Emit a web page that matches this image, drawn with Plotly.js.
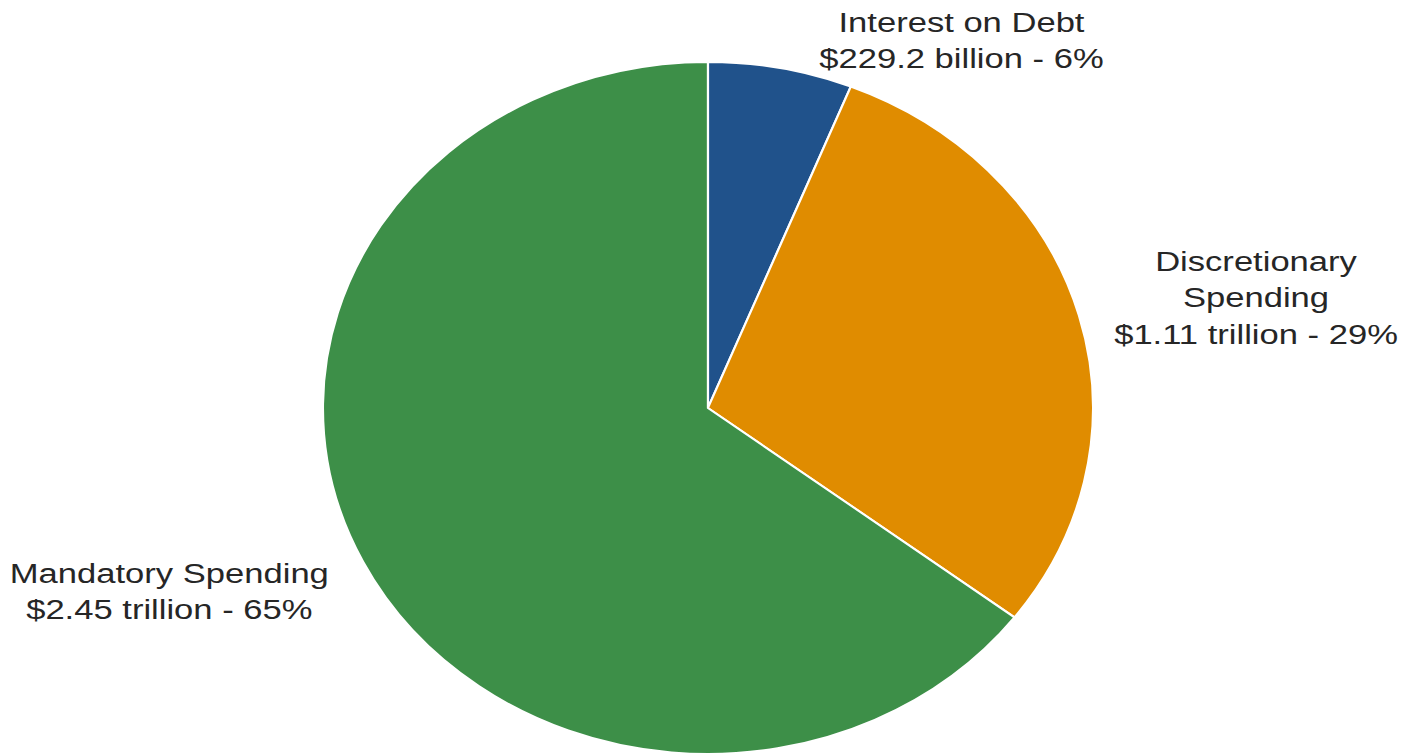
<!DOCTYPE html>
<html>
<head>
<meta charset="utf-8">
<script src="https://cdn.plot.ly/plotly-3.0.1.min.js"></script>
<style>
html,body{margin:0;padding:0;background:#fff;overflow:hidden;}
#wrap{width:1404px;height:755px;overflow:hidden;}
#chart{width:1262px;height:755px;transform:scaleX(1.1126);transform-origin:0 0;}
</style>
</head>
<body>
<div id="wrap"><div id="chart"></div></div>
<script>
const categories = ["Interest on Debt", "Discretionary Spending", "Mandatory Spending"];
const valuesBillion = [229.2, 1110, 2450];
const valueLabels = ["$229.2 billion - 6%", "$1.11 trillion - 29%", "$2.45 trillion - 65%"];
const labelLines = [["Interest on Debt"], ["Discretionary", "Spending"], ["Mandatory Spending"]];
const colors = ["#20528b", "#e08c00", "#3d8f48"];

const W = 1262, H = 755;
const trace = {
  type: "pie",
  labels: categories,
  values: valuesBillion,
  sort: false,
  direction: "clockwise",
  rotation: 0,
  textinfo: "none",
  hoverinfo: "label+value+percent",
  marker: {colors: colors, line: {color: "#ffffff", width: 2}},
  domain: {x: [0.2296, 0.7788], y: [0.0013, 0.918]},
  showlegend: false
};

const annPos = [[0.6848, 1 - 41/755], [0.8945, 1 - 298/755], [0.1204, 1 - 591/755]];
const annotations = categories.map((c, i) => ({
  xref: "paper", yref: "paper",
  x: annPos[i][0], y: annPos[i][1],
  xanchor: "center", yanchor: "middle",
  showarrow: false, align: "center",
  text: labelLines[i].concat([valueLabels[i]]).join("<br>"),
  font: {family: "Liberation Sans, Arial, sans-serif", size: 28, color: "#262626"}
}));

Plotly.newPlot("chart", [trace], {
  width: W, height: H,
  margin: {l: 0, r: 0, t: 0, b: 0},
  paper_bgcolor: "#ffffff",
  annotations: annotations
}, {displayModeBar: false, staticPlot: true}).then(() => {
  // widen label text slightly to match the reference's wider lettering
  document.querySelectorAll("#chart .annotation-text").forEach(t => {
    const bb = t.getBBox();
    const cx = bb.x + bb.width / 2;
    t.setAttribute("transform", `translate(${cx},0) scale(1.11,1) translate(${-cx},0)`);
  });
});
</script>
</body>
</html>
